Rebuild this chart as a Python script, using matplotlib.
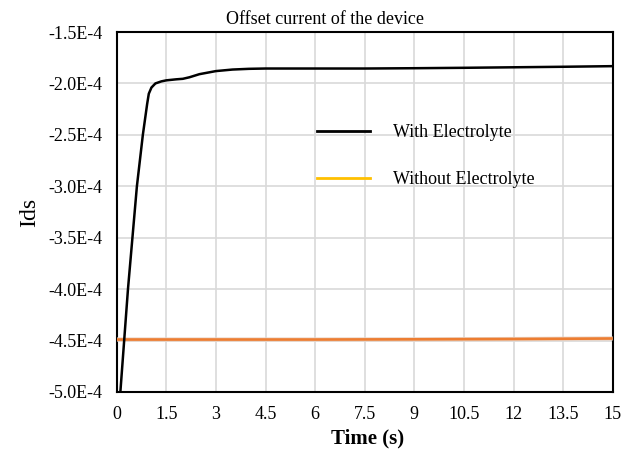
import matplotlib
matplotlib.use("Agg")
import matplotlib.pyplot as plt
from matplotlib.lines import Line2D

plt.rcParams['font.family'] = ['Liberation Serif', 'DejaVu Serif']

# time (s) and drain current, with electrolyte
t_with = [0.11, 0.34, 0.61, 0.79, 0.92, 0.97, 1.05, 1.17, 1.35, 1.5, 1.8, 2.0,
          2.2, 2.5, 3.0, 3.5, 4.0, 4.5, 6.0, 7.5, 9.0, 10.5, 12.0, 13.5, 15.0]
ids_with = [-5.0e-4, -4.0e-4, -3.0e-4, -2.5e-4, -2.2e-4, -2.1e-4, -2.04e-4, -2.0e-4,
            -1.98e-4, -1.97e-4, -1.96e-4, -1.955e-4, -1.94e-4, -1.91e-4, -1.88e-4,
            -1.865e-4, -1.858e-4, -1.855e-4, -1.855e-4, -1.855e-4, -1.852e-4,
            -1.848e-4, -1.843e-4, -1.838e-4, -1.832e-4]

# without electrolyte
t_without = [0.0, 3.0, 6.0, 9.0, 12.0, 15.0]
ids_without = [-4.49e-4, -4.49e-4, -4.49e-4, -4.488e-4, -4.485e-4, -4.48e-4]

xticks = [0, 1.5, 3, 4.5, 6, 7.5, 9, 10.5, 12, 13.5, 15]
yticks = [-5.0e-4, -4.5e-4, -4.0e-4, -3.5e-4, -3.0e-4, -2.5e-4, -2.0e-4, -1.5e-4]
ylabels = ['-5.0E-4', '-4.5E-4', '-4.0E-4', '-3.5E-4', '-3.0E-4', '-2.5E-4', '-2.0E-4', '-1.5E-4']

fig = plt.figure(figsize=(6.33, 4.54), dpi=100)
ax = fig.add_axes([0.1844, 0.1366, 0.7836, 0.7929])

ax.plot(t_without, ids_without, color='#E9D2C2', lw=3.0, solid_capstyle='butt', zorder=3)
ax.plot(t_without, ids_without, color='#ED7D31', lw=1.9, solid_capstyle='butt', zorder=4)
ax.plot(t_with, ids_with, color='black', lw=1.8, zorder=5)

ax.set_xlim(0, 15)
ax.set_ylim(-5.0e-4, -1.5e-4)
ax.set_xticks(xticks)
ax.set_xticklabels([('%g' % v) for v in xticks])
ax.set_yticks(yticks)
ax.set_yticklabels(ylabels)
ax.tick_params(length=0, labelsize=13, pad=10)
ax.grid(True, color='#D9D9D9', lw=1.2)
ax.set_axisbelow(True)
for s in ax.spines.values():
    s.set_color('black')
    s.set_linewidth(1.5)

fig.text(325 / 633, 1 - 19 / 454, 'Offset current of the device', fontsize=13,
         ha='center', va='center')
fig.text(368 / 633, 1 - 438 / 454, 'Time (s)', fontsize=15, fontweight='bold',
         ha='center', va='center')
fig.text(30 / 633, 1 - 212 / 454, 'Ids', fontsize=17, rotation=90,
         ha='center', va='center')

handles = [Line2D([], [], color='black', lw=2.0),
           Line2D([], [], color='#FFC000', lw=2.0)]
ax.legend(handles, ['With Electrolyte', 'Without Electrolyte'], frameon=False,
          fontsize=13, handlelength=2.9, handletextpad=1.3, labelspacing=1.65,
          loc='upper left', bbox_to_anchor=((301 - 116.7) / 496, 1 - (108 - 32) / 360))

fig.savefig('out.png', dpi=100)
